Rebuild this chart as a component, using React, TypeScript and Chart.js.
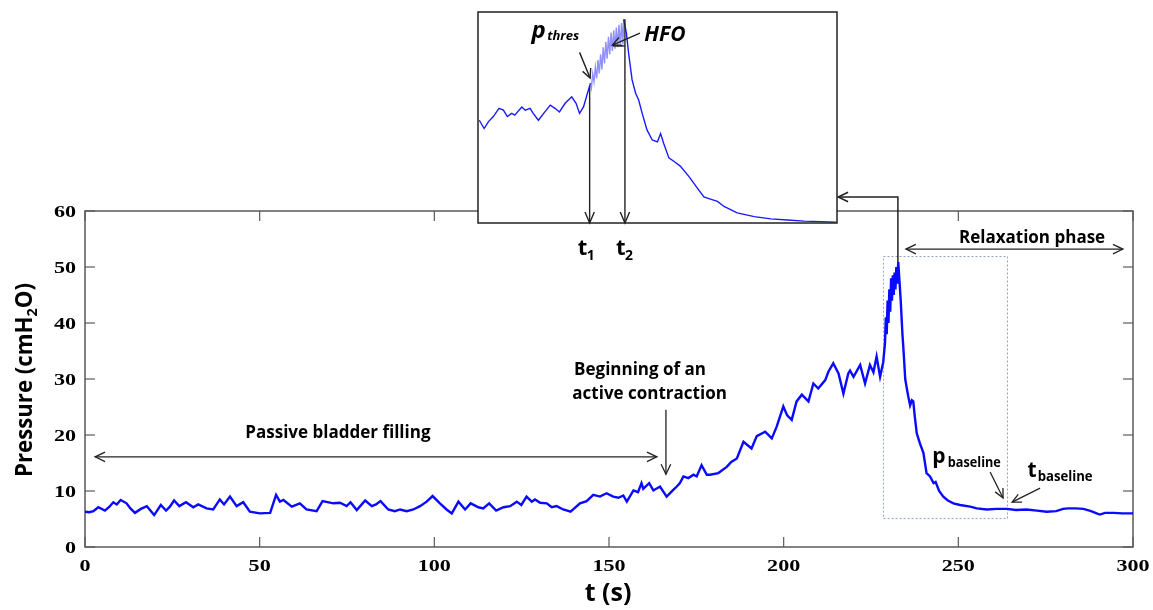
import React, { useEffect, useRef } from "react";
import { Chart, registerables } from "chart.js";
Chart.register(...registerables);

// ---------- main recording (t in s, pressure in cmH2O) ----------
const timeS = [
  0, 1.2, 2.4, 3.8, 5.7, 7.0, 8.1, 9.1, 10.2, 11.9, 13.0, 14.3, 16.0, 17.7, 19.8, 21.7, 23.2, 24.3, 25.5, 27.0,
  28.9, 31.0, 32.4, 34.8, 36.7, 38.6, 39.8, 41.5, 43.4, 45.3, 47.2, 50.1, 53.0, 54.7, 55.8, 56.8, 59.2, 61.5, 63.4, 66.3,
  68.0, 71.1, 73.0, 74.9, 76.0, 77.8, 80.2, 82.1, 83.3, 84.6, 86.8, 88.7, 90.2, 92.1, 94.0, 95.9, 97.8, 99.5, 101.6, 103.5,
  105.0, 106.9, 108.8, 110.4, 112.6, 114.0, 115.7, 117.7, 119.8, 121.7, 123.6, 124.9, 126.4, 127.9, 128.8, 130.3, 132.2, 133.6, 135.0, 136.9,
  139.0, 141.7, 143.6, 145.5, 147.4, 149.3, 151.2, 152.7, 154.1, 155.1, 157.0, 158.3, 159.3, 159.8, 161.5, 162.7, 164.6, 166.5, 168.4, 169.4,
  170.3, 171.3, 172.7, 174.2, 175.1, 176.5, 178.0, 178.9, 181.3, 183.7, 185.0, 186.6, 188.5, 190.8, 192.3, 194.7, 196.6, 198.0, 199.9, 201.0,
  202.3, 203.7, 205.2, 207.1, 208.5, 209.9, 211.9, 212.8, 214.2, 215.7, 217.1, 218.5, 219.0, 220.0, 221.9, 223.3, 224.7, 225.7, 226.6, 227.6,
  228.5, 229.0, 229.25, 229.5, 229.75, 230.0, 230.25, 230.5, 230.75, 231.0, 231.25, 231.5, 231.75, 232.0, 232.25, 232.5, 232.8, 233.2, 233.5, 234.0,
  234.3, 234.8, 235.2, 235.7, 236.2, 236.7, 237.1, 237.5, 238.1, 239.0, 240.0, 240.9, 241.9, 242.9, 243.5, 244.5, 245.7, 247.0, 248.6, 250.5,
  253.4, 255.3, 258.1, 261.0, 263.9, 266.5, 269.6, 272.5, 275.3, 278.0, 280.0, 281.5, 283.5, 285.8, 288.0, 289.6, 290.5, 292.0, 294.4, 297.0,
  300.0,
];
const pressure = [
  6.3, 6.2, 6.4, 7.1, 6.5, 7.2, 8.0, 7.6, 8.4, 7.8, 6.9, 6.1, 6.8, 7.3, 5.7, 7.5, 6.5, 7.2, 8.3, 7.3,
  8.0, 7.1, 7.6, 6.9, 6.7, 8.5, 7.6, 9.0, 7.3, 8.0, 6.3, 6.0, 6.1, 9.3, 8.1, 8.4, 7.2, 7.8, 6.7, 6.4,
  8.2, 7.8, 7.9, 7.3, 8.0, 6.6, 8.3, 7.3, 7.6, 8.2, 6.7, 6.4, 6.7, 6.4, 6.7, 7.3, 8.1, 9.1, 7.8, 6.7,
  6.0, 8.1, 6.7, 7.8, 7.1, 6.9, 7.8, 6.5, 7.1, 7.3, 8.1, 7.5, 9.0, 8.1, 8.5, 7.9, 7.8, 7.1, 7.3, 6.7,
  6.3, 7.8, 8.2, 9.3, 9.0, 9.6, 9.0, 8.8, 9.2, 8.1, 10.1, 9.8, 11.4, 10.4, 11.4, 10.1, 10.8, 9.0, 10.2, 10.8,
  11.4, 12.6, 12.3, 12.9, 12.6, 14.6, 12.9, 12.9, 13.2, 14.3, 15.2, 15.8, 18.8, 17.6, 19.8, 20.6, 19.4, 21.5, 25.1, 23.5,
  22.7, 26.0, 27.2, 26.0, 29.2, 28.3, 29.8, 31.3, 32.8, 31.0, 27.4, 31.0, 31.5, 30.4, 32.5, 29.2, 32.5, 31.2, 34.0, 30.4,
  33.0, 36.4, 41.0, 38.0, 44.0, 40.0, 46.0, 42.0, 48.0, 44.0, 48.5, 45.0, 49.0, 46.0, 50.0, 47.0, 50.9, 47.0, 44.1, 38.0,
  35.2, 30.0, 28.5, 26.8, 25.3, 26.2, 26.0, 23.5, 20.3, 18.5, 16.8, 13.2, 12.6, 11.4, 11.6, 10.0, 9.0, 8.3, 7.8, 7.5,
  7.2, 6.9, 6.7, 6.8, 6.8, 6.6, 6.7, 6.5, 6.3, 6.4, 6.8, 6.9, 6.9, 6.8, 6.4, 6.0, 5.8, 6.1, 6.1, 6.0,
  6.0,
];

// ---------- inset (zoom of the contraction peak) ----------
const insetTimeS = [
  216.15, 216.7, 217.2, 217.75, 218.4, 218.9, 219.35, 219.85, 220.2, 221.0, 221.4, 221.95, 222.3, 222.9, 223.5, 224.25, 224.8, 225.3, 225.95, 226.7,
  227.2, 227.6, 228.05, 228.5, 228.85, 228.95, 229.1, 229.25, 229.4, 229.55, 229.7, 229.85, 230.0, 230.15, 230.3, 230.45, 230.6, 230.75, 230.9, 231.05,
  231.2, 231.35, 231.5, 231.65, 231.8, 231.95, 232.1, 232.25, 232.4, 232.55, 232.64, 232.95, 233.2, 233.6, 234.0, 234.35, 234.75, 235.3, 235.9, 236.5,
  236.85, 237.2, 237.8, 238.4, 239.1, 240.1, 241.05, 241.8, 242.55, 243.35, 244.1, 245.6, 247.55, 249.45, 251.35, 253.25, 255.2, 256.9,
];
const insetPressure = [
  28.4, 26.6, 28.1, 29.2, 31.0, 30.6, 29.2, 29.9, 29.5, 31.3, 30.6, 31.0, 29.9, 28.4, 29.9, 31.7, 31.0, 30.2, 32.1, 33.5,
  32.1, 29.9, 31.3, 34.3, 36.5, 35.5, 38.5, 36.8, 40.0, 37.5, 41.5, 38.6, 42.8, 39.5, 44.3, 40.8, 45.5, 41.8, 46.6, 42.8,
  47.5, 43.5, 48.0, 44.0, 48.6, 44.3, 49.2, 44.5, 49.6, 45.0, 50.4, 47.4, 43.0, 37.2, 34.3, 32.8, 29.9, 26.3, 24.1, 23.7,
  25.5, 23.4, 20.2, 19.4, 18.4, 16.1, 13.6, 11.7, 11.2, 10.7, 9.6, 8.2, 7.4, 6.9, 6.65, 6.4, 6.3, 6.2,
];
const hfoStart = 228.8;
const hfoEnd = 232.7;
const t1 = 228.75;
const t2 = 232.78;

const xTicks = [0, 50, 100, 150, 200, 250, 300];
const yTicks = [0, 10, 20, 30, 40, 50, 60];
const xTitle = "t (s)";
const yTitleParts = ["Pressure (cmH", "2", "O)"];
const passiveLabel = "Passive bladder filling";
const activeLabel = ["Beginning of an", "active contraction"];
const relaxLabel = "Relaxation phase";

const SANS = "'Open Sans', Lato, sans-serif";
const SERIF = "'Liberation Serif', 'DejaVu Serif', serif";

function head(ctx: CanvasRenderingContext2D, x1: number, y1: number, x2: number, y2: number, size = 11, spread = 0.45) {
  const a = Math.atan2(y2 - y1, x2 - x1);
  ctx.beginPath();
  ctx.moveTo(x2 - size * Math.cos(a - spread), y2 - size * Math.sin(a - spread));
  ctx.lineTo(x2, y2);
  ctx.lineTo(x2 - size * Math.cos(a + spread), y2 - size * Math.sin(a + spread));
  ctx.stroke();
}
function line(ctx: CanvasRenderingContext2D, x1: number, y1: number, x2: number, y2: number) {
  ctx.beginPath();
  ctx.moveTo(x1, y1);
  ctx.lineTo(x2, y2);
  ctx.stroke();
}
function stretched(ctx: CanvasRenderingContext2D, text: string, x: number, y: number, align: CanvasTextAlign, sx: number) {
  ctx.save();
  ctx.translate(x, y);
  ctx.scale(sx, 1);
  ctx.textAlign = align;
  ctx.fillText(text, 0, 0);
  ctx.restore();
}

const mainPlugin = {
  id: "mainDecor",
  beforeDatasetsDraw(chart: any) {
    const { ctx, chartArea: a } = chart;
    const X = (v: number) => chart.scales.x.getPixelForValue(v);
    const Y = (v: number) => chart.scales.y.getPixelForValue(v);
    ctx.save();
    // dotted zoom rectangle
    ctx.strokeStyle = "#8ea3c6";
    ctx.lineWidth = 1;
    ctx.setLineDash([2, 2]);
    ctx.strokeRect(Math.round(X(228.4)) + 0.5, Math.round(Y(52.0)) + 0.5, X(263.9) - X(228.4), Y(5.2) - Y(52.0));
    ctx.setLineDash([]);
    // frame
    ctx.strokeStyle = "#5a5a5a";
    ctx.lineWidth = 1.5;
    ctx.strokeRect(a.left, a.top, a.right - a.left, a.bottom - a.top);
    // inward ticks
    ctx.lineWidth = 1.2;
    for (const v of yTicks) {
      const py = Y(v);
      line(ctx, a.left, py, a.left + 10, py);
      line(ctx, a.right - 10, py, a.right, py);
    }
    for (const v of xTicks) {
      const px = X(v);
      line(ctx, px, a.bottom, px, a.bottom - 10);
      line(ctx, px, a.top, px, a.top + 10);
    }
    ctx.restore();
  },
  afterDraw(chart: any) {
    const { ctx, chartArea: a } = chart;
    const X = (v: number) => chart.scales.x.getPixelForValue(v);
    const Y = (v: number) => chart.scales.y.getPixelForValue(v);
    ctx.save();
    ctx.fillStyle = "#000";
    // tick labels
    ctx.font = `bold 17px ${SERIF}`;
    ctx.textBaseline = "middle";
    for (const v of yTicks) stretched(ctx, String(v), a.left - 9, Y(v) + 2, "right", 1.3);
    ctx.textBaseline = "alphabetic";
    for (const v of xTicks) stretched(ctx, String(v), X(v), a.bottom + 24, "center", 1.3);
    // axis titles
    ctx.font = `bold 25px ${SANS}`;
    ctx.textAlign = "center";
    ctx.textBaseline = "middle";
    ctx.fillText(xTitle, 608, a.bottom + 47, 50);
    ctx.save();
    ctx.translate(24, 380);
    ctx.rotate(-Math.PI / 2);
    const big = `bold 23px ${SANS}`;
    const small = `bold 15px ${SANS}`;
    ctx.font = big;
    const w0 = ctx.measureText(yTitleParts[0]).width;
    const w2 = ctx.measureText(yTitleParts[2]).width;
    ctx.font = small;
    const w1 = ctx.measureText(yTitleParts[1]).width;
    const total = w0 + w1 + w2;
    const k = Math.min(1, 194 / total);
    ctx.scale(k, 1);
    let sx = -total / 2;
    ctx.textAlign = "left";
    ctx.textBaseline = "alphabetic";
    ctx.font = big;
    ctx.fillText(yTitleParts[0], sx, 8);
    sx += w0;
    ctx.font = small;
    ctx.fillText(yTitleParts[1], sx, 13);
    sx += w1;
    ctx.font = big;
    ctx.fillText(yTitleParts[2], sx, 8);
    ctx.restore();

    // annotations
    ctx.strokeStyle = "#222";
    ctx.lineWidth = 1.3;
    ctx.font = `bold 17px ${SANS}`;
    ctx.textAlign = "center";
    ctx.textBaseline = "middle";
    ctx.fillText(passiveLabel, X(72.4), Y(20.4), 188);
    const py = Y(16.1);
    line(ctx, X(2.9), py, X(163.7), py);
    head(ctx, X(163.7), py, X(2.9), py);
    head(ctx, X(2.9), py, X(163.7), py);

    ctx.textAlign = "left";
    ctx.fillText(activeLabel[0], X(140.0), Y(31.6), 134);
    ctx.fillText(activeLabel[1], X(139.5), Y(27.3), 156);
    line(ctx, X(166.3), Y(24.5), X(166.3), Y(13.0));
    head(ctx, X(166.3), Y(24.5), X(166.3), Y(13.0));

    ctx.textAlign = "center";
    ctx.fillText(relaxLabel, X(271.1), Y(55.2), 148);
    const ry = Y(53.2);
    line(ctx, X(235.0), ry, X(297.1), ry);
    head(ctx, X(297.1), ry, X(235.0), ry);
    head(ctx, X(235.0), ry, X(297.1), ry);

    // p_baseline
    ctx.textAlign = "left";
    ctx.textBaseline = "alphabetic";
    ctx.font = `bold 21px ${SANS}`;
    ctx.fillText("p", X(242.5), Y(15.0));
    ctx.font = `bold 14px ${SANS}`;
    ctx.fillText("baseline", X(247.0), Y(14.2), 53);
    line(ctx, X(259.1), Y(13.4), X(262.8), Y(8.75));
    head(ctx, X(259.1), Y(13.4), X(262.8), Y(8.75), 10);
    // t_baseline
    ctx.font = `bold 21px ${SANS}`;
    ctx.fillText("t", X(269.8), Y(12.5));
    ctx.font = `bold 14px ${SANS}`;
    ctx.fillText("baseline", X(272.7), Y(11.7), 55);
    line(ctx, X(273.4), Y(10.5), X(265.4), Y(8.0));
    head(ctx, X(273.4), Y(10.5), X(265.4), Y(8.0), 10);

    // connector from peak to the inset
    ctx.lineWidth = 1.5;
    const cx = X(232.7);
    const cy = Y(62.5);
    ctx.beginPath();
    ctx.moveTo(cx, Y(50.9));
    ctx.lineTo(cx, cy);
    ctx.lineTo(X(215.6), cy);
    ctx.stroke();
    head(ctx, cx, cy, X(215.6), cy, 11);
    ctx.restore();
  },
};

const insetPlugin = {
  id: "insetDecor",
  beforeDatasetsDraw(chart: any) {
    const { ctx, chartArea: a } = chart;
    ctx.save();
    ctx.fillStyle = "#fff";
    ctx.fillRect(a.left, a.top, a.right - a.left, a.bottom - a.top);
    ctx.restore();
  },
  afterDraw(chart: any) {
    const { ctx, chartArea: a } = chart;
    const X = (v: number) => chart.scales.x.getPixelForValue(v);
    const Y = (v: number) => chart.scales.y.getPixelForValue(v);
    ctx.save();
    ctx.strokeStyle = "#222";
    ctx.lineWidth = 1.5;
    ctx.strokeRect(a.left, a.top, a.right - a.left, a.bottom - a.top);
    ctx.lineWidth = 1.4;
    // t1 / t2 markers
    line(ctx, X(t1), Y(35.8), X(t1), a.bottom);
    head(ctx, X(t1), Y(35.8), X(t1), a.bottom, 12, 0.4);
    line(ctx, X(t2), Y(50.4), X(t2), a.bottom);
    head(ctx, X(t2), Y(50.4), X(t2), a.bottom, 12, 0.4);
    ctx.fillStyle = "#000";
    ctx.textAlign = "left";
    ctx.textBaseline = "alphabetic";
    ctx.font = `bold 22px ${SANS}`;
    ctx.fillText("t", X(t1) - 12, a.bottom + 32);
    ctx.fillText("t", X(t2) - 9, a.bottom + 32);
    ctx.font = `bold 14px ${SANS}`;
    ctx.fillText("1", X(t1) - 3, a.bottom + 37);
    ctx.fillText("2", X(t2) + 0, a.bottom + 37);
    // HFO
    ctx.font = `italic bold 21px ${SANS}`;
    ctx.fillText("HFO", X(235.0), Y(45.6), 44);
    line(ctx, X(234.5), Y(47.4), X(231.35), Y(44.8));
    head(ctx, X(234.5), Y(47.4), X(231.35), Y(44.8), 10);
    line(ctx, X(231.4), Y(44.6), X(232.8), Y(44.6));
    // p_thres
    ctx.font = `italic bold 24px ${SANS}`;
    ctx.fillText("p", X(222.1), Y(46.4));
    ctx.font = `italic bold 13px ${SANS}`;
    ctx.fillText("thres", X(223.9), Y(46.0), 33);
    line(ctx, X(227.6), Y(43.2), X(228.8), Y(37.6));
    head(ctx, X(227.6), Y(43.2), X(228.8), Y(37.6), 10);
    ctx.restore();
  },
};

export default function App() {
  const mainRef = useRef<HTMLCanvasElement>(null);
  const insetRef = useRef<HTMLCanvasElement>(null);
  useEffect(() => {
    const main = new Chart(mainRef.current as HTMLCanvasElement, {
      type: "line",
      data: {
        datasets: [
          {
            data: timeS.map((t, i) => ({ x: t, y: pressure[i] })),
            borderColor: "#0a0aff",
            borderWidth: 2.4,
            pointRadius: 0,
            tension: 0,
          },
        ],
      },
      options: {
        responsive: false,
        animation: false,
        devicePixelRatio: 1,
        layout: { padding: { left: 0, top: 211, right: 20, bottom: 0 } },
        plugins: { legend: { display: false }, tooltip: { enabled: false } },
        scales: {
          x: {
            type: "linear",
            min: 0,
            max: 300,
            grid: { display: false },
            border: { display: false },
            ticks: { display: false, stepSize: 50 },
            afterFit: (s: any) => {
              s.height = 63;
            },
          },
          y: {
            type: "linear",
            min: 0,
            max: 60,
            grid: { display: false },
            border: { display: false },
            ticks: { display: false, stepSize: 10 },
            afterFit: (s: any) => {
              s.width = 85;
            },
          },
        },
      } as any,
      plugins: [mainPlugin],
    });
    const inset = new Chart(insetRef.current as HTMLCanvasElement, {
      type: "line",
      data: {
        datasets: [
          {
            data: insetTimeS.map((t, i) => ({ x: t, y: insetPressure[i] })),
            borderColor: "#1a1aff",
            borderWidth: 1.4,
            pointRadius: 0,
            tension: 0,
            segment: {
              borderColor: (c: any) =>
                c.p0.parsed.x >= hfoStart && c.p1.parsed.x <= hfoEnd ? "rgba(70,70,255,0.6)" : "#1a1aff",
            },
          },
        ],
      },
      options: {
        responsive: false,
        animation: false,
        devicePixelRatio: 1,
        layout: { padding: { left: 8, top: 12, right: 13, bottom: 47 } },
        plugins: { legend: { display: false }, tooltip: { enabled: false } },
        scales: {
          x: { type: "linear", display: false, min: 216, max: 257 },
          y: { type: "linear", display: false, min: 6, max: 52 },
        },
      } as any,
      plugins: [insetPlugin],
    });
    return () => {
      main.destroy();
      inset.destroy();
    };
  }, []);
  return (
    <div style={{ position: "absolute", left: 0, top: 0, width: 1153, height: 610, background: "#fff" }}>
      <canvas
        ref={mainRef}
        width={1153}
        height={610}
        style={{ position: "absolute", left: 0, top: 0, width: 1153, height: 610 }}
      />
      <canvas
        ref={insetRef}
        width={380}
        height={270}
        style={{ position: "absolute", left: 470, top: 0, width: 380, height: 270 }}
      />
    </div>
  );
}
